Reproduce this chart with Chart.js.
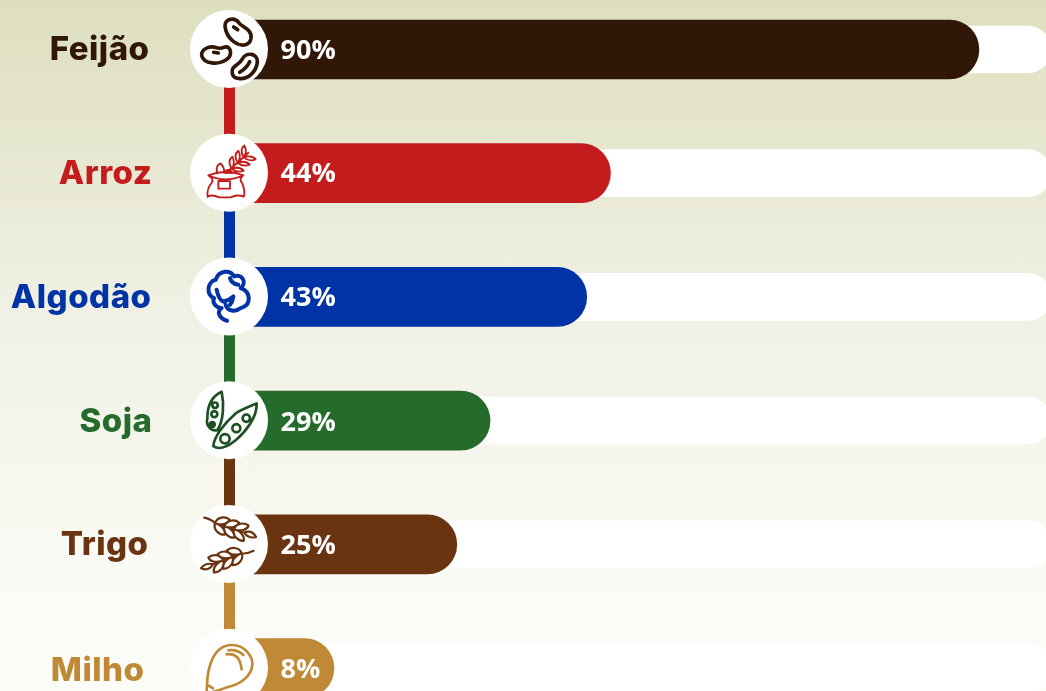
<!DOCTYPE html>
<html lang="pt">
<head>
<meta charset="utf-8">
<title>Feijão, Arroz, Algodão, Soja, Trigo, Milho</title>
<script src="https://cdn.jsdelivr.net/npm/chart.js@4/dist/chart.umd.min.js"></script>
<style>
  html, body { margin: 0; height: 691px; overflow: hidden; }
  body { position: relative; background: linear-gradient(180deg, #dedfbe 0%, #f0f0e4 45%, #fbfbf6 85%, #fcfcf9 100%); }
  #chart { position: absolute; left: 0; top: -13px; }
</style>
</head>
<body>
<canvas id="chart" width="1060" height="743"></canvas>
<script>
const categories = ['Feijão', 'Arroz', 'Algodão', 'Soja', 'Trigo', 'Milho'];
// number printed on each bar
const percentages = [90, 44, 43, 29, 25, 8];
// length, Algodão and Milho do not follow their printed number
const barLengths = [90.9, 44.4, 41.4, 29.2, 25, 9.5];
const trackValues = [100, 100, 100, 100, 100, 100];
const barColors = ['#311708', '#c41c1c', '#0033a5', '#256b2c', '#69340f', '#c08935'];
const iconColors = ['#311708', '#c41c1c', '#0033a5', '#1c4f22', '#69340f', '#c08935'];
const labelRightEdges = [149.5, 152.5, 151.5, 152.5, 148.5, 144.5];
const labelNudges = [1, 1, 1, 1, 1, 2.5];
const percentNudges = [1.5, 1, 1, 3, 2, 2];

const AXIS_MIN = -4;
const SPINE_X = 229.5;
const CIRCLE_R = 39;

// --- icons, drawn at 3x around the circle centre ---
function beanIcon(c) {
  c.lineWidth = 11;
  c.beginPath();
  c.moveTo(-12, -68);
  c.bezierCurveTo(-14, -92, 18, -96, 30, -78);
  c.bezierCurveTo(38, -66, 70, -60, 66, -32);
  c.bezierCurveTo(62, -8, 36, -6, 14, -22);
  c.bezierCurveTo(-2, -34, -10, -48, -12, -68);
  c.moveTo(-82, 20);
  c.bezierCurveTo(-84, -2, -55, -10, -38, -4);
  c.bezierCurveTo(-30, 0, -22, -2, -12, -6);
  c.bezierCurveTo(6, -10, 12, 20, -8, 32);
  c.bezierCurveTo(-30, 48, -76, 46, -82, 20);
  c.moveTo(10, 74);
  c.bezierCurveTo(4, 50, 30, 50, 40, 30);
  c.bezierCurveTo(50, 8, 88, 12, 85, 40);
  c.bezierCurveTo(82, 68, 58, 90, 34, 89);
  c.bezierCurveTo(20, 89, 12, 84, 10, 74);
  c.moveTo(32, 70);
  c.quadraticCurveTo(54, 56, 62, 38);
  c.moveTo(14, -66);
  c.lineTo(26, -58);
  c.moveTo(-46, 10);
  c.lineTo(-32, 12);
  c.stroke();
}

function sackIcon(c) {
  c.lineWidth = 5.5;
  c.beginPath();
  c.moveTo(-62, 8);
  c.quadraticCurveTo(-10, -12, 43, 8);
  c.quadraticCurveTo(28, 20, 40, 32);
  c.quadraticCurveTo(50, 60, 44, 72);
  c.quadraticCurveTo(25, 64, 5, 74);
  c.lineTo(-30, 74);
  c.quadraticCurveTo(-50, 64, -64, 72);
  c.quadraticCurveTo(-68, 50, -52, 30);
  c.quadraticCurveTo(-44, 18, -62, 8);
  c.moveTo(-62, 8);
  c.quadraticCurveTo(-10, 32, 43, 8);
  c.moveTo(-32, 25);
  c.rect(-32, 25, 35, 23);
  c.moveTo(-8, 0);
  c.lineTo(58, -60);
  [[8, -12], [26, -30], [44, -46]].forEach(function (p) {
    c.moveTo(p[0], p[1]);
    c.quadraticCurveTo(p[0] - 14, p[1] - 24, p[0] + 2, p[1] - 36);
    c.quadraticCurveTo(p[0] + 12, p[1] - 16, p[0], p[1]);
    c.moveTo(p[0], p[1]);
    c.quadraticCurveTo(p[0] + 24, p[1] - 8, p[0] + 36, p[1] + 6);
    c.quadraticCurveTo(p[0] + 16, p[1] + 14, p[0], p[1]);
  });
  c.moveTo(-35, 2);
  c.quadraticCurveTo(-42, -22, -25, -28);
  c.quadraticCurveTo(-14, -16, -14, -2);
  c.stroke();
  c.beginPath();
  c.arc(-2, 3, 14, Math.PI, 0);
  c.fill();
}

function cottonIcon(c) {
  c.lineWidth = 12;
  c.beginPath();
  c.moveTo(-25, 35);
  c.bezierCurveTo(-45, 30, -50, 15, -45, 5);
  c.bezierCurveTo(-70, -5, -65, -45, -40, -50);
  c.bezierCurveTo(-30, -80, 5, -80, 15, -60);
  c.bezierCurveTo(40, -70, 55, -40, 35, -25);
  c.bezierCurveTo(65, -15, 70, 25, 35, 35);
  c.bezierCurveTo(20, 48, -5, 45, -10, 25);
  c.moveTo(3, -55);
  c.quadraticCurveTo(8, -38, 28, -35);
  c.moveTo(-37, -20);
  c.quadraticCurveTo(-30, 12, -17, 15);
  c.quadraticCurveTo(0, 12, 13, 0);
  c.quadraticCurveTo(12, 14, 3, 25);
  c.moveTo(-22, 35);
  c.bezierCurveTo(-38, 45, -30, 65, -6, 73);
  c.stroke();
}

function soyIcon(c) {
  c.lineWidth = 8;
  c.beginPath();
  c.moveTo(-22, -85);
  c.bezierCurveTo(-15, -50, -15, 0, -35, 30);
  c.bezierCurveTo(-55, 35, -70, 15, -65, -5);
  c.bezierCurveTo(-65, -35, -55, -70, -22, -85);
  c.moveTo(83, -50);
  c.bezierCurveTo(85, -10, 50, 35, 20, 60);
  c.bezierCurveTo(-5, 80, -30, 90, -47, 78);
  c.bezierCurveTo(-45, 50, -15, 10, 20, -20);
  c.bezierCurveTo(40, -35, 60, -40, 83, -50);
  [[-42, -45, 8], [-44, -18, 9], [52, -6, 11], [22, 24, 12], [-12, 56, 14]].forEach(function (p) {
    c.moveTo(p[0] + p[2], p[1]);
    c.arc(p[0], p[1], p[2], 0, Math.PI * 2);
  });
  c.stroke();
  c.beginPath();
  c.arc(-50, 13, 11, 0, Math.PI * 2);
  c.fill();
}

function sprig(c, x, y, angle) {
  c.save();
  c.translate(x, y);
  c.rotate(angle);
  c.beginPath();
  c.moveTo(-36, -6);
  c.quadraticCurveTo(-12, -8, 0, 0);
  c.lineTo(96, 0);
  [0, 30, 60].forEach(function (g) {
    [-1, 1].forEach(function (side) {
      c.moveTo(g, 0);
      c.bezierCurveTo(g + 0, side * 20, g + 22, side * 30, g + 38, side * 24);
      c.bezierCurveTo(g + 38, side * 10, g + 22, side * 2, g + 8, 0);
    });
  });
  c.moveTo(92, 0);
  c.quadraticCurveTo(112, -16, 130, 2);
  c.quadraticCurveTo(110, 14, 92, 0);
  c.stroke();
  c.restore();
}

function wheatIcon(c) {
  c.lineWidth = 6.5;
  sprig(c, -42, -62, 0.31);
  sprig(c, 38, 28, Math.PI - 0.37);
}

function kernelIcon(c) {
  c.lineWidth = 8;
  c.beginPath();
  c.moveTo(-66, 58);
  c.bezierCurveTo(-66, 30, -60, -68, 10, -68);
  c.bezierCurveTo(45, -68, 72, -35, 70, -8);
  c.bezierCurveTo(68, 22, 40, 46, 5, 56);
  c.bezierCurveTo(-20, 63, -40, 72, -60, 76);
  c.bezierCurveTo(-68, 76, -68, 66, -66, 58);
  c.moveTo(-2, -52);
  c.quadraticCurveTo(25, -56, 43, -38);
  c.moveTo(-7, -40);
  c.quadraticCurveTo(32, -46, 38, 5);
  c.moveTo(-60, 55);
  c.lineTo(-48, 62);
  c.stroke();
}

const iconDrawers = [beanIcon, sackIcon, cottonIcon, soyIcon, wheatIcon, kernelIcon];

// connector behind the circles
const spinePlugin = {
  id: 'spine',
  beforeDatasetsDraw(chart) {
    const y = chart.scales.y;
    const c = chart.ctx;
    for (let i = 1; i < categories.length; i++) {
      c.fillStyle = barColors[i];
      c.fillRect(SPINE_X - 5.5, y.getPixelForValue(i - 1), 11, y.getPixelForValue(i) - y.getPixelForValue(i - 1));
    }
  }
};

// circles, icons and texts on top of the bars
const markerPlugin = {
  id: 'markers',
  afterDatasetsDraw(chart) {
    const y = chart.scales.y;
    const c = chart.ctx;
    categories.forEach(function (name, i) {
      const cy = y.getPixelForValue(i);

      c.fillStyle = '#ffffff';
      c.beginPath();
      c.arc(SPINE_X - 0.5, cy - 0.5, CIRCLE_R, 0, Math.PI * 2);
      c.fill();

      c.save();
      c.translate(SPINE_X - 0.5, cy - 0.5);
      c.scale(1 / 3, 1 / 3);
      c.strokeStyle = iconColors[i];
      c.fillStyle = iconColors[i];
      c.lineCap = 'round';
      c.lineJoin = 'round';
      iconDrawers[i](c);
      c.restore();

      c.textBaseline = 'middle';
      c.textAlign = 'left';
      c.fillStyle = '#ffffff';
      c.letterSpacing = '0px';
      c.font = '700 27px "Open Sans"';
      c.fillText(percentages[i] + '%', 280.5, cy + percentNudges[i]);

      c.textAlign = 'right';
      c.fillStyle = barColors[i];
      c.letterSpacing = '0.5px';
      c.font = '800 33px Inter';
      c.fillText(name, labelRightEdges[i], cy + labelNudges[i]);
    });
  }
};

new Chart(document.getElementById('chart'), {
  type: 'bar',
  data: {
    labels: categories,
    datasets: [{
      data: barLengths,
      backgroundColor: barColors,
      base: AXIS_MIN,
      barThickness: 59,
      borderRadius: 29.5,
      order: 1
    }, {
      data: trackValues,
      backgroundColor: '#ffffff',
      base: AXIS_MIN,
      barThickness: 47,
      borderRadius: 23.5,
      order: 2
    }]
  },
  options: {
    indexAxis: 'y',
    responsive: false,
    animation: false,
    layout: { padding: { left: 227, right: 9, top: 0.6 } },
    plugins: { legend: { display: false }, tooltip: { enabled: false } },
    scales: {
      x: { display: false, min: AXIS_MIN, max: 100, grid: { display: false } },
      y: { display: false, grid: { display: false } }
    },
    datasets: { bar: { grouped: false } }
  },
  plugins: [spinePlugin, markerPlugin]
});
</script>
</body>
</html>
